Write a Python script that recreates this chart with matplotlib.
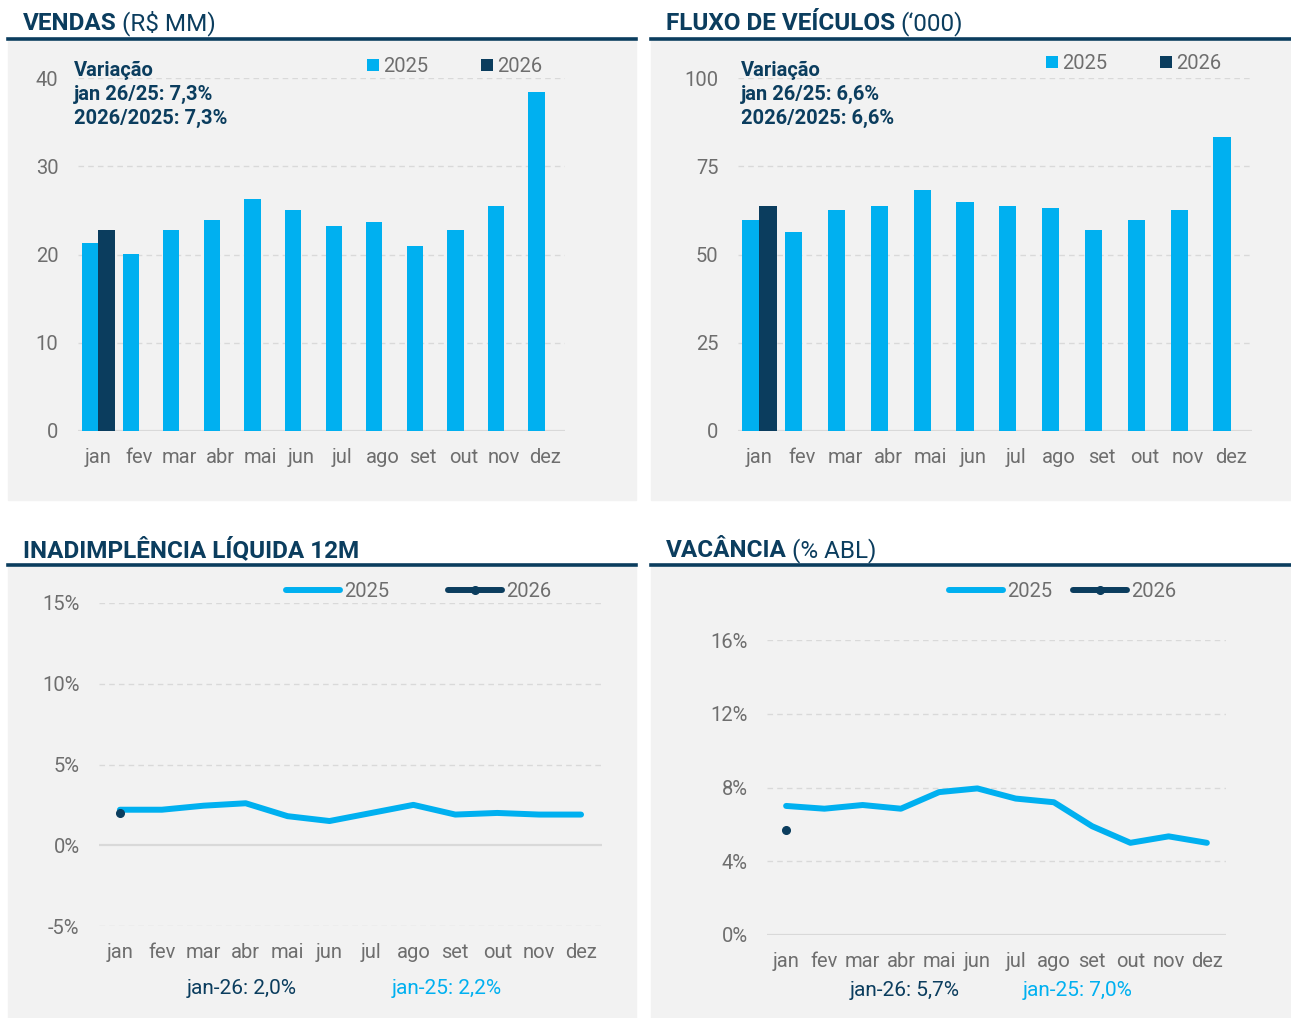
import matplotlib.pyplot as plt
from matplotlib.patches import Rectangle
from matplotlib.lines import Line2D
import numpy as np

plt.rcParams['font.family'] = ['Roboto', 'DejaVu Sans']

# dados
meses = ["jan", "fev", "mar", "abr", "mai", "jun", "jul", "ago", "set", "out", "nov", "dez"]

vendas_2025 = [21.3, 20.1, 22.8, 23.9, 26.3, 25.0, 23.2, 23.7, 21.0, 22.8, 25.5, 38.4]
vendas_2026 = [22.8]

fluxo_2025 = [59.8, 56.5, 62.6, 63.7, 68.2, 64.9, 63.7, 63.2, 56.9, 59.8, 62.6, 83.3]
fluxo_2026 = [63.7]

inad_2025 = [2.2, 2.2, 2.45, 2.6, 1.8, 1.5, 2.0, 2.5, 1.9, 2.0, 1.9, 1.9]
inad_2026 = [2.0]

vac_2025 = [7.0, 6.85, 7.05, 6.85, 7.75, 7.95, 7.4, 7.2, 5.9, 5.0, 5.35, 5.0]
vac_2026 = [5.7]

AZUL = '#00B0F0'
MARINHO = '#0B3D5E'
CINZA_TXT = '#6E6E6E'
CINZA_BG = '#F2F2F2'
GRADE = '#D9D9D9'

W, H = 1291, 1018
fig = plt.figure(figsize=(W / 100, H / 100), dpi=100)
fig.patch.set_facecolor('white')


def fx(x):
    return x / W


def fy(y):
    return 1 - y / H


def caixa(l, t, r, b):
    return [l / W, 1 - b / H, (r - l) / W, (b - t) / H]


# fundos cinza e linhas dos titulos
for (l, t, r, b) in [(8, 41, 636, 500), (651, 41, 1291, 500), (8, 567, 636, 1018), (651, 567, 1291, 1018)]:
    fig.patches.append(Rectangle((fx(l), fy(b)), (r - l) / W, (b - t) / H,
                                 transform=fig.transFigure, color=CINZA_BG, zorder=-10))
for (l, r, y) in [(8, 636, 39), (651, 1291, 39), (8, 636, 565), (651, 1291, 565)]:
    fig.lines.append(Line2D([fx(l), fx(r)], [fy(y), fy(y)], transform=fig.transFigure,
                            color=MARINHO, lw=2.6, zorder=-5))

renderer = fig.canvas.get_renderer()


def titulo(x, y, forte, fraco):
    t = fig.text(fx(x), fy(y), forte, fontsize=17.5, fontweight='bold', color=MARINHO, va='baseline')
    if fraco:
        bb = t.get_window_extent(renderer)
        fig.text(fx(x + bb.width + 5), fy(y), fraco, fontsize=17.5, color=MARINHO, va='baseline')


titulo(23, 30, "VENDAS", "(R$ MM)")
titulo(666, 30, "FLUXO DE VEÍCULOS", "(‘000)")
titulo(23, 557, "INADIMPLÊNCIA LÍQUIDA 12M", "")
titulo(666, 557, "VACÂNCIA", "(% ABL)")


def estilo(ax, ticks, labels):
    ax.set_facecolor('none')
    for s in ax.spines.values():
        s.set_visible(False)
    ax.set_yticks(ticks)
    ax.set_yticklabels(labels)
    ax.set_xticks(np.arange(12))
    ax.set_xticklabels(meses)
    ax.set_xlim(-0.5, 11.5)
    ax.tick_params(length=0, labelsize=14.5, labelcolor=CINZA_TXT)
    ax.tick_params(axis='y', pad=14)
    ax.tick_params(axis='x', pad=12)
    for v in ticks:
        if v == 0:
            ax.axhline(v, color=GRADE, lw=1.6, zorder=1)
        else:
            ax.axhline(v, color=GRADE, lw=1, ls=(0, (4, 3)), zorder=1)


def legenda(ax, x0, y0, **kw):
    ax.legend(loc='upper left', bbox_to_anchor=(fx(x0), fy(y0)), bbox_transform=fig.transFigure,
              ncol=2, frameon=False, fontsize=14.5, labelcolor=CINZA_TXT,
              borderpad=0, borderaxespad=0, **kw)


x = np.arange(12)

# VENDAS
ax1 = fig.add_axes(caixa(78, 78, 565, 431))
ax1.bar(x - 0.2, vendas_2025, 0.4, color=AZUL, label='2025', zorder=2)
ax1.bar(x[:1] + 0.2, vendas_2026, 0.4, color=MARINHO, label='2026', zorder=2)
ax1.set_ylim(0, 40)
estilo(ax1, [0, 10, 20, 30, 40], ['0', '10', '20', '30', '40'])
legenda(ax1, 367, 57, handlelength=0.6, handleheight=0.6, handletextpad=0.2, columnspacing=2.6)

# FLUXO
ax2 = fig.add_axes(caixa(738, 78, 1252, 431))
ax2.bar(x - 0.2, fluxo_2025, 0.4, color=AZUL, label='2025', zorder=2)
ax2.bar(x[:1] + 0.2, fluxo_2026, 0.4, color=MARINHO, label='2026', zorder=2)
ax2.set_ylim(0, 100)
estilo(ax2, [0, 25, 50, 75, 100], ['0', '25', '50', '75', '100'])
legenda(ax2, 1046, 54, handlelength=0.6, handleheight=0.6, handletextpad=0.2, columnspacing=2.6)

# textos de variacao
for (x0, l2, l3) in [(74, "jan 26/25: 7,3%", "2026/2025: 7,3%"), (741, "jan 26/25: 6,6%", "2026/2025: 6,6%")]:
    fig.text(fx(x0), fy(76), "Variação", fontsize=14.5, fontweight='bold', color=MARINHO, va='baseline')
    fig.text(fx(x0), fy(100), l2, fontsize=14.5, fontweight='bold', color=MARINHO, va='baseline')
    fig.text(fx(x0), fy(124), l3, fontsize=14.5, fontweight='bold', color=MARINHO, va='baseline')

# INADIMPLENCIA
ax3 = fig.add_axes(caixa(99, 603, 602, 926))
ax3.plot(x, inad_2025, color=AZUL, lw=4.3, solid_capstyle='round', solid_joinstyle='round',
         label='2025', zorder=3)
ax3.plot(x[:1], inad_2026, color=MARINHO, lw=4.3, marker='o', ms=5.5, solid_capstyle='round',
         label='2026', zorder=4)
ax3.set_ylim(-5, 15)
estilo(ax3, [-5, 0, 5, 10, 15], ['-5%', '0%', '5%', '10%', '15%'])
legenda(ax3, 286, 582, handlelength=2.7, handletextpad=0.2, columnspacing=2.9)

# VACANCIA
ax4 = fig.add_axes(caixa(767, 640, 1226, 935))
ax4.plot(x, vac_2025, color=AZUL, lw=4.3, solid_capstyle='round', solid_joinstyle='round',
         label='2025', zorder=3)
ax4.plot(x[:1], vac_2026, color=MARINHO, lw=4.3, marker='o', ms=5.5, solid_capstyle='round',
         label='2026', zorder=4)
ax4.set_ylim(0, 16)
estilo(ax4, [0, 4, 8, 12, 16], ['0%', '4%', '8%', '12%', '16%'])
legenda(ax4, 949, 582, handlelength=2.7, handletextpad=0.2, columnspacing=1.0)

# rodape
fig.text(fx(242), fy(989), "jan-26: 2,0%", fontsize=15, color=MARINHO, ha='center', va='center')
fig.text(fx(447), fy(989), "jan-25: 2,2%", fontsize=15, color=AZUL, ha='center', va='center')
fig.text(fx(905), fy(991), "jan-26: 5,7%", fontsize=15, color=MARINHO, ha='center', va='center')
fig.text(fx(1078), fy(991), "jan-25: 7,0%", fontsize=15, color=AZUL, ha='center', va='center')

fig.savefig("out.png", dpi=100)
